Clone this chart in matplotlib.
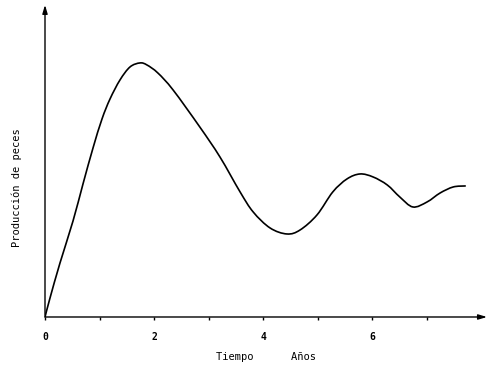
import matplotlib
matplotlib.use("Agg")
import matplotlib.pyplot as plt
from matplotlib.path import Path
from matplotlib.patches import PathPatch
import numpy as np

# Data (time in years, production arbitrary units)
tiempo = [0, 0.092, 0.275, 0.514, 0.697, 0.881, 1.046, 1.193, 1.376, 1.56, 1.743, 1.87,
          2.07, 2.35, 2.84, 3.21, 3.58, 3.82, 4.13, 4.44, 4.68, 4.99, 5.28, 5.54,
          5.78, 6.02, 6.28, 6.51, 6.75, 7.01, 7.25, 7.49, 7.71]
produccion = [0, 1.9, 5.4, 9.6, 13.3, 16.9, 19.8, 21.8, 23.7, 25.0, 25.4, 25.2,
              24.4, 22.7, 19.0, 16.0, 12.5, 10.5, 8.9, 8.3, 8.7, 10.2, 12.5, 13.8,
              14.3, 14.0, 13.2, 12.0, 11.0, 11.5, 12.4, 13.0, 13.1]
tick_vals = [0, 2, 4, 6]
minor_vals = [1, 3, 5, 7]

fig = plt.figure(figsize=(5, 3.68), dpi=100)
ax = fig.add_axes([0.09, 0.1386, 0.884, 0.848])
ax.set_xlim(0, 8.11)
ax.set_ylim(0, 31.2)

# smooth curve through the read points: Catmull-Rom segments as cubic Bezier path
P = np.column_stack([tiempo, produccion])
verts = [tuple(P[0])]
codes = [Path.MOVETO]
n = len(P)
for i in range(n - 1):
    p0 = P[i - 1] if i > 0 else P[i]
    p1 = P[i]
    p2 = P[i + 1]
    p3 = P[i + 2] if i + 2 < n else P[i + 1]
    c1 = p1 + (p2 - p0) / 6.0
    c2 = p2 - (p3 - p1) / 6.0
    verts += [tuple(c1), tuple(c2), tuple(p2)]
    codes += [Path.CURVE4] * 3
ax.add_patch(PathPatch(Path(verts, codes), facecolor="none", edgecolor="black",
                       lw=1.2, capstyle="round", joinstyle="round"))

for s in ax.spines.values():
    s.set_visible(False)

# axes with arrows
ax.annotate("", xy=(1.0, 0), xytext=(0, 0), xycoords="axes fraction",
            arrowprops=dict(arrowstyle="-|>,head_length=0.5,head_width=0.15", color="black", lw=1.0,
                            shrinkA=0, shrinkB=0))
ax.annotate("", xy=(0, 1.0), xytext=(0, 0), xycoords="axes fraction",
            arrowprops=dict(arrowstyle="-|>,head_length=0.5,head_width=0.15", color="black", lw=1.0,
                            shrinkA=0, shrinkB=0))

font = dict(family="DejaVu Sans Mono", size=7, weight="bold")
ax.set_xticks(tick_vals + minor_vals)
ax.set_xticklabels([str(v) for v in tick_vals] + [""] * len(minor_vals), fontdict=font)
ax.tick_params(axis="x", direction="out", length=2, width=1, pad=9)
ax.set_yticks([])

ax.set_xlabel("Tiempo      Años", fontdict=dict(family="DejaVu Sans Mono", size=7.5), labelpad=7)
fig.text(0.034, 0.49, "Producción de peces", rotation=90, ha="center", va="center",
         family="DejaVu Sans Mono", size=7.5)

fig.savefig("out.png", dpi=100)
